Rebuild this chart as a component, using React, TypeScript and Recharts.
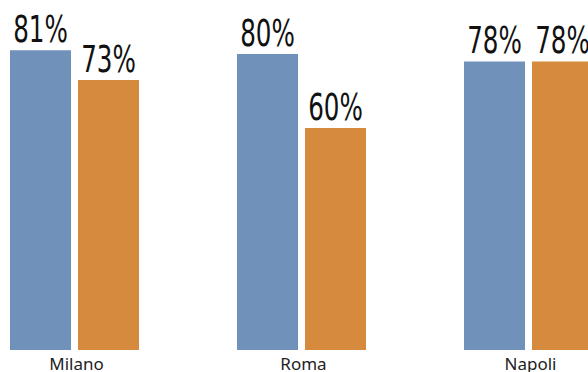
import React from 'react';
import { BarChart, Bar, XAxis, YAxis, LabelList } from 'recharts';

const cities = ['Milano', 'Roma', 'Napoli'];
const seriesA = [81, 80, 78];
const seriesB = [73, 60, 78];

const data = cities.map((city, i) => ({ city, a: seriesA[i], b: seriesB[i] }));

const BLUE = '#6F91BA';
const ORANGE = '#D68A3D';

const ValueLabel = (props: any) => {
  const { x, y, width, value } = props;
  const cx = x + width / 2;
  return (
    <text
      transform={`translate(${cx},${y - 8}) scale(0.74,1)`}
      x={0}
      y={0}
      textAnchor="middle"
      fontFamily="'Liberation Sans Narrow', 'DejaVu Sans Condensed', sans-serif"
      fontSize={37}
      fill="#111"
    >
      {`${value}%`}
    </text>
  );
};

const CityTick = (props: any) => {
  const { x, y, payload } = props;
  return (
    <text
      x={x + 2}
      y={y + 12}
      textAnchor="middle"
      fontFamily="'Noto Sans', sans-serif"
      fontSize={17}
      fill="#222"
    >
      {payload.value}
    </text>
  );
};

const App = () => {
  return (
    <div style={{ position: 'absolute', left: 0, top: 0, width: 588, height: 372, overflow: 'hidden', background: '#fff' }}>
      <div style={{ marginLeft: -39 }}>
        <BarChart
          width={681}
          height={372}
          data={data}
          margin={{ top: 17, right: 0, bottom: 0, left: 0 }}
          barSize={61}
          barGap={7}
          barCategoryGap={49}
        >
          <XAxis
            dataKey="city"
            axisLine={false}
            tickLine={false}
            height={22}
            interval={0}
            tick={<CityTick />}
          />
          <YAxis hide domain={[0, 90]} />
          <Bar dataKey="a" fill={BLUE} isAnimationActive={false}>
            <LabelList dataKey="a" content={<ValueLabel />} />
          </Bar>
          <Bar dataKey="b" fill={ORANGE} isAnimationActive={false}>
            <LabelList dataKey="b" content={<ValueLabel />} />
          </Bar>
        </BarChart>
      </div>
    </div>
  );
};

export default App;
